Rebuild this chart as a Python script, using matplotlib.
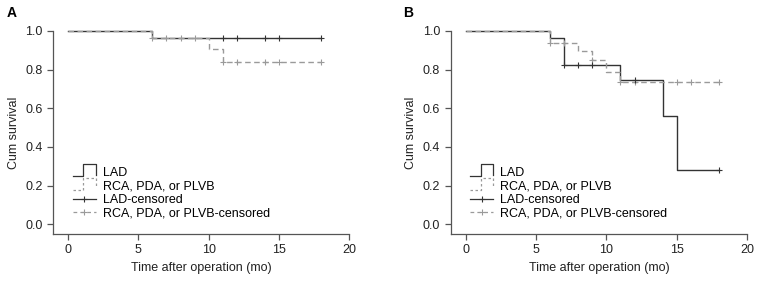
import numpy as np
import matplotlib
matplotlib.use('Agg')
import matplotlib.pyplot as plt
from matplotlib.lines import Line2D
from matplotlib.legend_handler import HandlerBase

plt.rcParams['font.family'] = ['Liberation Sans', 'DejaVu Sans']
plt.rcParams['font.size'] = 9

# panel A
lad_a_t = [0, 6, 18]
lad_a_s = [1.0, 0.965, 0.965]
lad_a_cens = [11, 12, 14, 15, 18]
rca_a_t = [0, 6, 10, 11, 18]
rca_a_s = [1.0, 0.965, 0.905, 0.838, 0.838]
rca_a_cens = [6, 7, 8, 9, 11, 12, 14, 15, 18]

# panel B
lad_b_t = [0, 6, 7, 11, 14, 15, 18]
lad_b_s = [1.0, 0.965, 0.825, 0.745, 0.56, 0.28, 0.28]
lad_b_cens = [7, 8, 9, 12, 18]
rca_b_t = [0, 6, 8, 9, 10, 11, 18]
rca_b_s = [1.0, 0.94, 0.895, 0.85, 0.79, 0.735, 0.735]
rca_b_cens = [6, 7, 9, 11, 12, 15, 16, 18]

xticks = [0, 5, 10, 15, 20]
yticks = [0.0, 0.2, 0.4, 0.6, 0.8, 1.0]
labels = ['LAD', 'RCA, PDA, or PLVB', 'LAD-censored', 'RCA, PDA, or PLVB-censored']

dark = '#333333'
grey = '#9a9a9a'


def surv_at(t, s, c):
    idx = np.searchsorted(t, c, side='right') - 1
    return np.array(s)[idx]


class StepHandler(HandlerBase):
    def __init__(self, color, ls):
        super().__init__()
        self.color = color
        self.ls = ls

    def create_artists(self, legend, orig_handle, xdescent, ydescent,
                       width, height, fontsize, trans):
        x0, y0 = -xdescent, -ydescent
        m = x0 + width * 0.47
        xs = [x0, m, m, x0 + width, x0 + width]
        ys = [y0, y0, y0 + height * 1.35, y0 + height * 1.35, y0 + height * 0.15]
        ln = Line2D(xs, ys, color=self.color, ls=self.ls, lw=0.9, transform=trans)
        return [ln]


fig = plt.figure(figsize=(7.61, 2.81), dpi=100)

panels = [
    ('A', 0.0696, 0.0092, lad_a_t, lad_a_s, lad_a_cens, rca_a_t, rca_a_s, rca_a_cens),
    ('B', 0.5922, 0.5296, lad_b_t, lad_b_s, lad_b_cens, rca_b_t, rca_b_s, rca_b_cens),
]

for name, left, lx, lt, ls_, lc, rt, rs, rc in panels:
    ax = fig.add_axes([left, 0.1673, 0.3895, 0.7224])
    ax.step(lt, ls_, where='post', color=dark, lw=1, clip_on=False)
    ax.step(rt, rs, where='post', color=grey, lw=1, ls=(0, (4, 2.5)), clip_on=False)
    ax.plot(rc, surv_at(rt, rs, rc), '+', color=grey, ms=4.5, mew=0.8, clip_on=False)
    ax.plot(lc, surv_at(lt, ls_, lc), '+', color=dark, ms=4.5, mew=0.8, clip_on=False)

    ax.set_xlim(-1.07, 20)
    ax.set_ylim(-0.05, 1.0)
    ax.set_xticks(xticks)
    ax.set_yticks(yticks)
    ax.set_yticklabels(['%.1f' % v for v in yticks])
    for sp in ['top', 'right']:
        ax.spines[sp].set_visible(False)
    for sp in ['left', 'bottom']:
        ax.spines[sp].set_color('#555555')
        ax.spines[sp].set_linewidth(0.9)
    ax.tick_params(direction='out', length=4, width=0.9, color='#555555',
                   labelcolor='#222222', labelsize=9)
    ax.set_xlabel('Time after operation (mo)', fontsize=9, color='#222222')
    ax.set_ylabel('Cum survival', fontsize=9, color='#222222')

    h1 = Line2D([], [], color=dark)
    h2 = Line2D([], [], color=grey)
    h3 = Line2D([], [], color=dark, marker='+', ms=4.5, mew=0.8, lw=0.9)
    h4 = Line2D([], [], color=grey, marker='+', ms=4.5, mew=0.8, lw=0.9, ls=(0, (3, 2.5)))
    ax.legend([h1, h2, h3, h4], labels, loc='upper left', bbox_to_anchor=(0.045, 0.36),
              frameon=False, borderpad=0, handlelength=1.85, handletextpad=0.55,
              labelspacing=0.12, fontsize=9, markerscale=1,
              handler_map={h1: StepHandler(dark, '-'), h2: StepHandler(grey, (0, (2, 2)))})

    fig.text(lx, 0.953, name, fontsize=10, fontweight='bold', ha='left', va='center')

fig.savefig('out.png', dpi=100)
